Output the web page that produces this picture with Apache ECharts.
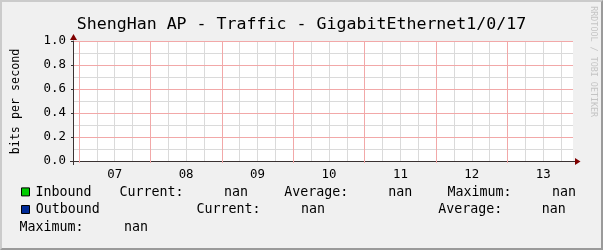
<!DOCTYPE html>
<html><head><meta charset="utf-8">
<script src="https://cdn.jsdelivr.net/npm/echarts@6/dist/echarts.min.js"></script>
<style>
html,body{margin:0;padding:0;background:#F0F0F0;}
#wrap{position:relative;width:603px;height:250px;overflow:hidden;}
#chart{position:absolute;left:0;top:0;width:603px;height:250px;}
#frame{position:absolute;left:0;top:0;width:603px;height:250px;box-sizing:border-box;border-style:solid;border-width:2px;border-color:#CBCBCB #9A9A9A #9A9A9A #CBCBCB;pointer-events:none;}
</style></head><body>
<div id="wrap"><div id="chart"></div><div id="frame"></div></div>
<script>
// ---- data ----
const titleText = 'ShengHan AP - Traffic - GigabitEthernet1/0/17';
const yAxisTitle = 'bits per second';
const watermark = 'RRDTOOL / TOBI OETIKER';
const days = ['06', '07', '08', '09', '10', '11', '12', '13'];
const startHour = 22;   // window starts 06 22:00
const endHour = 22;     // window ends 13 22:00
const seriesNames = ['Inbound', 'Outbound'];
const seriesColors = ['#00CC00', '#002A97'];
// all samples are NaN (no data) -> empty series
const inboundValues = [];
const outboundValues = [];
const statLabels = ['Current:', 'Average:', 'Maximum:'];
const inboundStats = ['nan', 'nan', 'nan'];
const outboundStats = ['nan', 'nan', 'nan'];
const yMin = 0, yMax = 1.0, yStep = 0.2;
const yMinorLevels = ['0.0', '0.1', '0.2', '0.3', '0.4', '0.5', '0.6', '0.7', '0.8', '0.9', '1.0'];

// hourly category slots
const timeSlots = [];
days.forEach((d, di) => {
  for (let h = 0; h < 24; h++) {
    if (di === 0 && h < startHour) continue;
    if (di === days.length - 1 && h > endHour) continue;
    timeSlots.push(d + ' ' + String(h).padStart(2, '0') + ':00');
  }
});
const hourOf = v => parseInt(String(v).slice(3, 5), 10);

// ---- style ----
const mono = 'DejaVu Sans Mono';
const axisColor = '#3a3232';
const arrowColor = '#7F0000';
const majorGrid = '#F2A8A8';
const minorGrid = '#DADADA';

const chart = echarts.init(document.getElementById('chart'), null, {renderer: 'canvas'});

const legendFont = {fontFamily: mono, fontSize: 13.3, fill: '#000'};
const rowsY = [192.4, 210, 227.4];
function txt(text, x, y) {
  return {type: 'text', x: x, y: y, silent: true,
    style: Object.assign({text: text, align: 'left', verticalAlign: 'middle'}, legendFont)};
}
const legendGraphics = [];
[0, 1].forEach(i => {
  legendGraphics.push({type: 'rect', silent: true,
    shape: {x: 21.5, y: rowsY[i] - 4.5, width: 8, height: 8},
    style: {fill: seriesColors[i], stroke: '#000', lineWidth: 1}});
});
// row 1
legendGraphics.push(txt(seriesNames[0], 35.5, rowsY[0]));
legendGraphics.push(txt(statLabels[0], 119.5, rowsY[0]));
legendGraphics.push(txt(inboundStats[0], 224, rowsY[0]));
legendGraphics.push(txt(statLabels[1], 284.3, rowsY[0]));
legendGraphics.push(txt(inboundStats[1], 388.2, rowsY[0]));
legendGraphics.push(txt(statLabels[2], 447.4, rowsY[0]));
legendGraphics.push(txt(inboundStats[2], 552, rowsY[0]));
// row 2
legendGraphics.push(txt(seriesNames[1], 35.7, rowsY[1]));
legendGraphics.push(txt(statLabels[0], 196.4, rowsY[1]));
legendGraphics.push(txt(outboundStats[0], 301, rowsY[1]));
legendGraphics.push(txt(statLabels[1], 438.2, rowsY[1]));
legendGraphics.push(txt(outboundStats[1], 541.7, rowsY[1]));
// row 3
legendGraphics.push(txt(statLabels[2], 19.5, rowsY[2]));
legendGraphics.push(txt(outboundStats[2], 124, rowsY[2]));

const option = {
  animation: false,
  backgroundColor: '#F0F0F0',
  title: {
    text: titleText, left: 'center', top: 11,
    textStyle: {fontFamily: mono, fontSize: 16.6, fontWeight: 'normal', color: '#000'}
  },
  grid: {left: 73, top: 41, width: 500, height: 120, show: true,
    backgroundColor: '#FFFFFF', borderWidth: 0, containLabel: false},
  xAxis: [{
    type: 'category', data: timeSlots, boundaryGap: false, position: 'bottom', z: 0,
    axisLine: {show: false},
    axisTick: {show: false}, axisLabel: {show: false},
    splitLine: {show: true, interval: (i, v) => hourOf(v) % 6 === 0 && hourOf(v) !== 0,
      lineStyle: {color: minorGrid, width: 1}}
  }, {
    type: 'category', data: timeSlots, boundaryGap: false, position: 'bottom', offset: 0, z: 3,
    axisLine: {show: true, onZero: false, lineStyle: {color: axisColor, width: 1}},
    axisTick: {show: true, length: 2, interval: (i, v) => hourOf(v) === 0,
      lineStyle: {color: majorGrid}},
    axisLabel: {interval: (i, v) => hourOf(v) === 12, formatter: v => v.slice(0, 2),
      fontFamily: mono, fontSize: 12.4, color: '#000', margin: 8},
    splitLine: {show: true, interval: (i, v) => hourOf(v) === 0,
      lineStyle: {color: majorGrid, width: 1}}
  }],
  yAxis: [{
    type: 'category', data: yMinorLevels, boundaryGap: false, position: 'left', z: 0,
    axisLine: {show: false}, axisTick: {show: false}, axisLabel: {show: false},
    splitLine: {show: true, interval: (i) => i % 2 === 1, lineStyle: {color: minorGrid, width: 1}}
  }, {
    type: 'value', min: yMin, max: yMax, interval: yStep, position: 'left', offset: 0, z: 3,
    axisLine: {show: true, onZero: false, lineStyle: {color: axisColor, width: 1}},
    axisTick: {show: true, length: 2, lineStyle: {color: axisColor}},
    axisLabel: {formatter: v => v.toFixed(1), fontFamily: mono, fontSize: 12.4, color: '#000', margin: 7},
    splitLine: {show: true, lineStyle: {color: majorGrid, width: 1}}
  }],
  series: [
    {name: seriesNames[0], type: 'line', xAxisIndex: 1, yAxisIndex: 1, data: inboundValues, showSymbol: false,
      lineStyle: {color: seriesColors[0], width: 1}, itemStyle: {color: seriesColors[0]}},
    {name: seriesNames[1], type: 'line', xAxisIndex: 1, yAxisIndex: 1, data: outboundValues, showSymbol: false,
      lineStyle: {color: seriesColors[1], width: 1}, itemStyle: {color: seriesColors[1]}}
  ]
};
chart.setOption(option);

// arrows, y-axis title, watermark and legend
const x0 = chart.convertToPixel({xAxisIndex: 1}, timeSlots[0]);
const x1 = chart.convertToPixel({xAxisIndex: 1}, timeSlots[timeSlots.length - 1]);
const yTop = chart.convertToPixel({yAxisIndex: 1}, yMax);
const yBot = chart.convertToPixel({yAxisIndex: 1}, yMin);
chart.setOption({
  graphic: [
    {type: 'line', silent: true, shape: {x1: x1, y1: yBot + 0.5, x2: x1 + 3, y2: yBot + 0.5},
      style: {stroke: axisColor, lineWidth: 1}},
    {type: 'line', silent: true, shape: {x1: x0 - 3, y1: yBot + 0.5, x2: x0, y2: yBot + 0.5},
      style: {stroke: axisColor, lineWidth: 1}},
    {type: 'line', silent: true, shape: {x1: x0 + 0.5, y1: yBot, x2: x0 + 0.5, y2: yBot + 4},
      style: {stroke: axisColor, lineWidth: 1}},
    {type: 'polygon', silent: true,
      shape: {points: [[x1 + 2, yBot - 3], [x1 + 7.5, yBot + 0.5], [x1 + 2, yBot + 4]]},
      style: {fill: arrowColor}},
    {type: 'polygon', silent: true,
      shape: {points: [[x0 - 3, yTop - 1], [x0 + 0.5, yTop - 7], [x0 + 4, yTop - 1]]},
      style: {fill: arrowColor}},
    {type: 'text', silent: true, x: 15.5, y: (yTop + yBot) / 2 + 0.5, rotation: Math.PI / 2,
      style: {text: yAxisTitle, align: 'center', verticalAlign: 'middle',
        fontFamily: mono, fontSize: 11.7, fill: '#000'}},
    {type: 'text', silent: true, x: 593, y: 61.7, rotation: -Math.PI / 2,
      style: {text: watermark, align: 'center', verticalAlign: 'middle',
        fontFamily: mono, fontSize: 8.4, fill: '#C4C4C4'}}
  ].concat(legendGraphics)
});
</script>
</body></html>
